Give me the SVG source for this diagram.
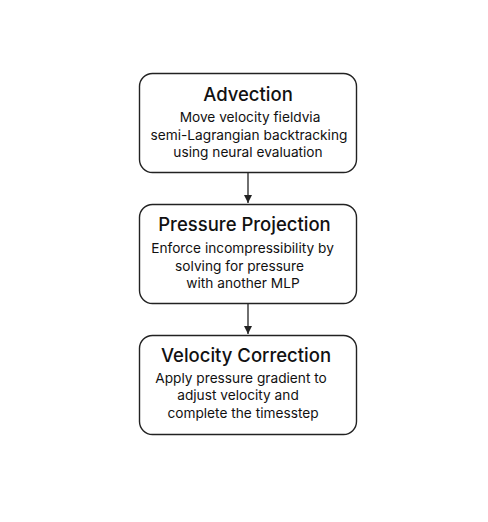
<svg xmlns="http://www.w3.org/2000/svg" width="488" height="522" viewBox="0 0 488 522">
<defs>
<style>
.box{fill:#fff;stroke:#222;stroke-width:1.4}
.title{font-family:Inter,"Liberation Sans",sans-serif;font-size:18.5px;font-weight:500;fill:#111;text-anchor:middle}
.body{font-family:Inter,"Liberation Sans",sans-serif;font-size:13.7px;fill:#111;text-anchor:middle}
.conn{stroke:#222;stroke-width:1.3;fill:none}
</style>
<marker id="arr" markerWidth="10" markerHeight="10" refX="8" refY="4" orient="auto" markerUnits="userSpaceOnUse">
<path d="M0,0 L8,4 L0,8 Z" fill="#222"/>
</marker>
</defs>
<rect width="488" height="522" fill="#fff"/>
<g id="connectors">
<line class="conn" x1="248" y1="173" x2="248" y2="203" marker-end="url(#arr)"/>
<line class="conn" x1="248" y1="304" x2="248" y2="334" marker-end="url(#arr)"/>
</g>
<g id="advection">
<rect class="box" x="139.5" y="73.5" width="217" height="99" rx="13"/>
<text class="title" x="248" y="101">Advection</text>
<text class="body" x="250" y="122">Move velocity fieldvia</text>
<text class="body" x="249" y="140">semi-Lagrangian backtracking</text>
<text class="body" x="248" y="157">using neural evaluation</text>
</g>
<g id="pressure-projection">
<rect class="box" x="139.5" y="204.5" width="217" height="99" rx="13"/>
<text class="title" x="244.5" y="231">Pressure Projection</text>
<text class="body" x="242.5" y="253">Enforce incompressibility by</text>
<text class="body" x="239.5" y="271">solving for pressure</text>
<text class="body" x="243" y="288">with another MLP</text>
</g>
<g id="velocity-correction">
<rect class="box" x="139.5" y="335.5" width="217" height="99" rx="13"/>
<text class="title" x="246" y="362">Velocity Correction</text>
<text class="body" x="241" y="383">Apply pressure gradient to</text>
<text class="body" x="238" y="400">adjust velocity and</text>
<text class="body" x="243" y="418">complete the timesstep</text>
</g>
</svg>
